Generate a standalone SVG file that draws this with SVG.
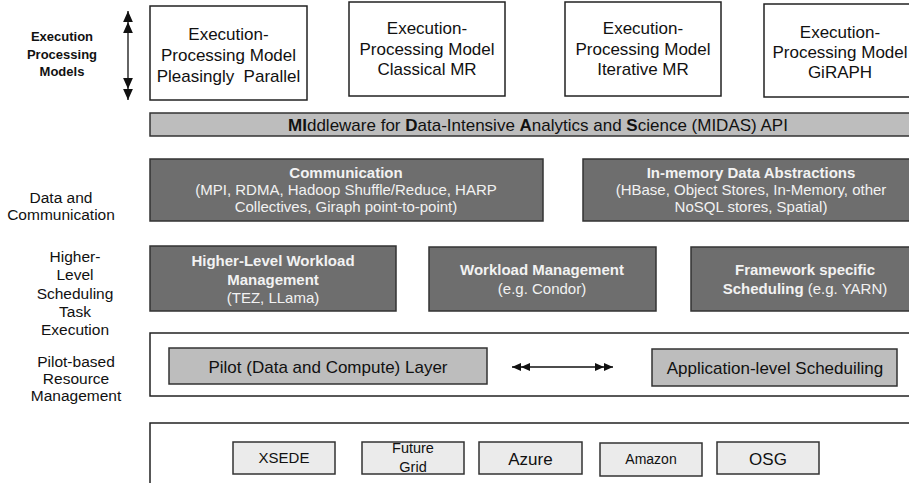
<svg xmlns="http://www.w3.org/2000/svg" width="909" height="483" viewBox="0 0 909 483">
<style>
text{font-family:"Liberation Sans",Arial,sans-serif;fill:#111}
.c{text-anchor:middle}
.box{fill:#fff;stroke:#222;stroke-width:1.5}
.api{fill:#bdbdbd;stroke:#333;stroke-width:1.5}
.dark{fill:#6e6e6e;stroke:#333;stroke-width:1.5}
.lite{fill:#bdbdbd;stroke:#333;stroke-width:1.5}
.plat{fill:#ebebeb;stroke:#333;stroke-width:1.5}
.t17{font-size:17px}
.t15{font-size:15px}
.lab{font-size:15.5px}
.w{fill:#f2f2f2;font-size:15px}
.b{font-weight:bold}
.wire{stroke:#111;stroke-width:1.3;fill:none}
</style>
<defs>
<marker id="dbl" viewBox="0 0 18 8" refX="18" refY="4" markerWidth="18" markerHeight="8" markerUnits="userSpaceOnUse" orient="auto-start-reverse">
<path d="M0,0 L9,4 L0,8 Z M9,0 L18,4 L9,8 Z" fill="#111"/>
</marker>
<marker id="dblv" viewBox="0 0 18 8" refX="18" refY="4" markerWidth="22" markerHeight="10" markerUnits="userSpaceOnUse" orient="auto-start-reverse">
<path d="M0,0 L9,4 L0,8 Z M9,0 L18,4 L9,8 Z" fill="#111"/>
</marker>
</defs>

<g id="label-exec">
<text class="c b" font-size="13" x="62" y="41">Execution</text>
<text class="c b" font-size="13" x="62" y="58.5">Processing</text>
<text class="c b" font-size="13" x="62" y="76">Models</text>
</g>

<g id="model-pp">
<rect class="box" x="150" y="6" width="157" height="94"/>
<text class="c t17" x="228.5" y="40">Execution-</text>
<text class="c t17" x="228.5" y="61">Processing Model</text>
<text class="c t17" x="228.5" y="82">Pleasingly&#160; Parallel</text>
</g>
<g id="model-cmr">
<rect class="box" x="349" y="2" width="156" height="94"/>
<text class="c t17" x="427" y="34">Execution-</text>
<text class="c t17" x="427" y="54.5">Processing Model</text>
<text class="c t17" x="427" y="75">Classical MR</text>
</g>
<g id="model-imr">
<rect class="box" x="565" y="2" width="156" height="94"/>
<text class="c t17" x="643" y="34">Execution-</text>
<text class="c t17" x="643" y="54.5">Processing Model</text>
<text class="c t17" x="643" y="75">Iterative MR</text>
</g>
<g id="model-giraph">
<rect class="box" x="764" y="4" width="152" height="93"/>
<text class="c t17" x="840" y="38">Execution-</text>
<text class="c t17" x="840" y="58">Processing Model</text>
<text class="c t17" x="840" y="78">GiRAPH</text>
</g>

<g id="midas-api">
<rect class="api" x="150" y="113" width="765" height="23"/>
<text class="c t17" x="538" y="131"><tspan class="b">MI</tspan>ddleware for <tspan class="b">D</tspan>ata-Intensive <tspan class="b">A</tspan>nalytics and <tspan class="b">S</tspan>cience (MIDAS) API</text>
</g>

<g id="label-data">
<text class="c lab" x="61" y="203">Data and</text>
<text class="c lab" x="61" y="220">Communication</text>
</g>

<g id="communication">
<rect class="dark" x="150" y="159" width="393" height="62"/>
<text class="c w b" x="346" y="178">Communication</text>
<text class="c w" x="346" y="195">(MPI, RDMA, Hadoop Shuffle/Reduce, HARP</text>
<text class="c w" x="346" y="212">Collectives, Giraph point-to-point)</text>
</g>
<g id="in-memory">
<rect class="dark" x="583" y="159" width="335" height="62"/>
<text class="c w b" x="751" y="178">In-memory Data Abstractions</text>
<text class="c w" x="751" y="195">(HBase, Object Stores, In-Memory, other</text>
<text class="c w" x="751" y="212">NoSQL stores, Spatial)</text>
</g>

<g id="label-sched">
<text class="c lab" x="75" y="261.5">Higher-</text>
<text class="c lab" x="75" y="280">Level</text>
<text class="c lab" x="75" y="298.5">Scheduling</text>
<text class="c lab" x="75" y="317">Task</text>
<text class="c lab" x="75" y="335">Execution</text>
</g>

<g id="higher-level">
<rect class="dark" x="150" y="246" width="246" height="65"/>
<text class="c w b" x="273" y="266">Higher-Level Workload</text>
<text class="c w b" x="273" y="284.5">Management</text>
<text class="c w" x="273" y="303">(TEZ, LLama)</text>
</g>
<g id="workload">
<rect class="dark" x="429" y="247" width="227" height="64"/>
<text class="c w b" x="542" y="275">Workload Management</text>
<text class="c w" x="542" y="294">(e.g. Condor)</text>
</g>
<g id="framework">
<rect class="dark" x="691" y="247" width="228" height="64"/>
<text class="c w b" x="805" y="275">Framework specific</text>
<text class="c w" x="805" y="294"><tspan class="b">Scheduling</tspan> (e.g. YARN)</text>
</g>

<g id="label-pilot">
<text class="c lab" x="76" y="366.5">Pilot-based</text>
<text class="c lab" x="76" y="383.5">Resource</text>
<text class="c lab" x="76" y="400.5">Management</text>
</g>

<g id="pilot-layer">
<rect class="box" x="150" y="333" width="770" height="63"/>
</g>
<g id="pilot">
<rect class="lite" x="169" y="348" width="318" height="36"/>
<text class="c t17" x="328" y="373">Pilot (Data and Compute) Layer</text>
</g>
<g id="app-sched">
<rect class="lite" x="652" y="349" width="245" height="37"/>
<text class="c t17" x="775" y="374">Application-level Scheduiling</text>
</g>

<g id="infrastructure">
<rect class="box" x="150" y="423" width="770" height="70"/>
</g>
<g id="xsede">
<rect class="plat" x="233" y="442" width="102" height="32"/>
<text class="c t15" x="284" y="463">XSEDE</text>
</g>
<g id="futuregrid">
<rect class="plat" x="362" y="442" width="102" height="32"/>
<text class="c" font-size="14.5" x="413" y="453">Future</text>
<text class="c" font-size="14.5" x="413" y="472">Grid</text>
</g>
<g id="azure">
<rect class="plat" x="479" y="442" width="103" height="32"/>
<text class="c t17" x="530.5" y="465">Azure</text>
</g>
<g id="amazon">
<rect class="plat" x="600" y="443" width="102" height="33"/>
<text class="c" font-size="14" x="651" y="464">Amazon</text>
</g>
<g id="osg">
<rect class="plat" x="717" y="442" width="102" height="32"/>
<text class="c t17" x="768" y="465">OSG</text>
</g>

<g id="connectors">
<line class="wire" x1="128" y1="11" x2="128" y2="100" marker-start="url(#dblv)" marker-end="url(#dblv)"/>
<line class="wire" x1="512" y1="367" x2="613" y2="367" marker-start="url(#dbl)" marker-end="url(#dbl)"/>
</g>
</svg>
